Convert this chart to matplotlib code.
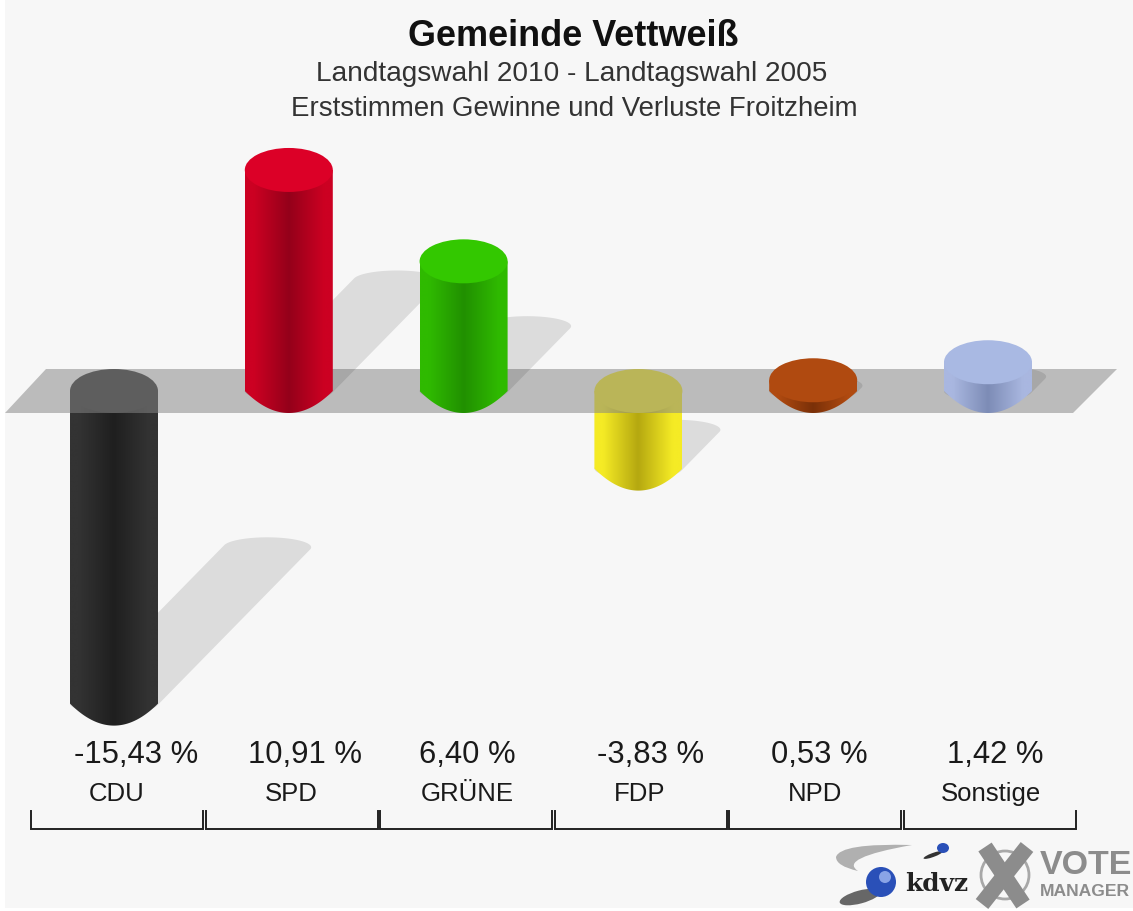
"""Gemeinde Vettweiss: first-vote gains and losses drawn as cylinders on a grey plane."""

import numpy as np
import matplotlib
matplotlib.use("Agg")
import matplotlib.pyplot as plt
from matplotlib.colors import LinearSegmentedColormap
from matplotlib.patches import Circle, Ellipse, Polygon, Rectangle, PathPatch
from matplotlib.path import Path

parties = ["CDU", "SPD", "GRÜNE", "FDP", "NPD", "Sonstige"]
values = [-15.43, 10.91, 6.40, -3.83, 0.53, 1.42]
value_labels = ["-15,43 %", "10,91 %", "6,40 %", "-3,83 %", "0,53 %", "1,42 %"]
title = "Gemeinde Vettweiß"
subtitle_1 = "Landtagswahl 2010 - Landtagswahl 2005"
subtitle_2 = "Erststimmen Gewinne und Verluste Froitzheim"

top_colors = ["#333333", "#dc0027", "#33c800", "#f5eb25", "#b04a10", "#a9b9e3"]
edge_colors = ["#333333", "#cc0022", "#2fba00", "#f5eb25", "#b04a10", "#a9b7e0"]
mid_colors = ["#1f1f1f", "#94001a", "#219000", "#b5a810", "#7a3008", "#7d8cb6"]

# pixel layout of the original: party spacing, px per percent point, zero line
STEP = 174.8
SCALE = 20.26
X0 = 114
Y0 = 391
HALF_W = 44 / STEP
HALF_H = 22 / SCALE
SHADOW_H = 10 / SCALE

BG = "#f7f7f7"


def ellipse_points(cx, cy, w, h, t0=0.0, t1=2 * np.pi, n=80):
    t = np.linspace(t0, t1, n)
    return np.column_stack([cx + w * np.cos(t), cy + h * np.sin(t)])


def px_x(x):
    return (x - X0) / STEP


def px_y(y):
    return (Y0 - y) / SCALE


def draw_shadow(ax, i, v, z):
    # the bar laid down to the back right, about half its length
    length = abs(v)
    y0 = min(v, 0)
    dx = 0.49 * length * SCALE / STEP
    dy = 0.5 * length
    t = np.arctan2(-(SHADOW_H * SCALE) * (dx * STEP), (HALF_W * STEP) * (dy * SCALE))
    front = ellipse_points(i + dx, y0 + dy, HALF_W, SHADOW_H, t, t + np.pi)
    back = ellipse_points(i, y0, HALF_W, SHADOW_H, t + np.pi, t + 2 * np.pi)
    ax.add_patch(Polygon(np.vstack([front, back]), closed=True, fc="black", alpha=0.105, ec="none", zorder=z))


def draw_bar(ax, i, v, z):
    top = max(v, 0)
    bottom = min(v, 0)
    # the lower rim meets the sides in a slight corner, so not a true half ellipse
    u = np.linspace(-1, 1, 80)
    curve = np.column_stack([i + HALF_W * u, bottom - HALF_H * (1 - np.abs(u) ** 2.0)])
    outline = np.vstack([[[i - HALF_W, top]], curve, [[i + HALF_W, top]]])
    body = Polygon(outline, closed=True, transform=ax.transData, fc="none", ec="none")
    ax.add_patch(body)

    cmap = LinearSegmentedColormap.from_list(
        "side",
        [(0, edge_colors[i]), (0.1, edge_colors[i]), (0.5, mid_colors[i]), (0.9, edge_colors[i]), (1, edge_colors[i])],
    )
    grad = np.linspace(0, 1, 256).reshape(1, -1)
    im = ax.imshow(
        grad, cmap=cmap, aspect="auto", zorder=z, interpolation="bilinear",
        extent=(i - HALF_W, i + HALF_W, bottom - HALF_H, top),
    )
    im.set_clip_path(body)
    ax.add_patch(Ellipse((i, top), 2 * HALF_W, 2 * HALF_H, fc=top_colors[i], ec="none", zorder=z + 0.1))


def draw_logo(fig):
    # logo lives in plain pixel coordinates on its own layer
    lg = fig.add_axes([0, 0, 1, 1], zorder=10)
    lg.set_xlim(0, 1133)
    lg.set_ylim(911, 0)
    lg.axis("off")
    lg.patch.set_alpha(0)

    swoosh = Path(
        [(912, 845), (840, 843), (836, 857), (836, 866), (858, 871), (838, 858), (912, 845)],
        [Path.MOVETO, Path.CURVE3, Path.CURVE3, Path.CURVE3, Path.CURVE3, Path.CURVE3, Path.CURVE3],
    )
    lg.add_patch(PathPatch(swoosh, fc="#b0b0b0", ec="none"))
    lg.add_patch(Ellipse((860, 897), 42, 13, angle=-15, fc="#2a2a2a", ec="none", alpha=0.7))
    lg.add_patch(Circle((881, 882), 15, fc="#2a50b8", ec="none"))
    lg.add_patch(Circle((885, 877), 6, fc="#8aa4e6", ec="none"))
    lg.add_patch(Ellipse((933, 855), 20, 4, angle=-20, fc="#333333", ec="none"))
    lg.add_patch(Ellipse((943, 848), 12, 10, fc="#2a50b8", ec="none"))
    lg.text(937, 884, "kdvz", family="DejaVu Serif", weight="bold", fontsize=17.8,
            ha="center", va="center", color="#222222")

    lg.add_patch(Circle((1005, 875), 24, fc="none", ec="#a8a8a8", lw=2))
    lg.plot([985, 1023], [847, 904], color="#8c8c8c", lw=11.5, solid_capstyle="butt")
    lg.plot([1027, 982], [847, 904], color="#8c8c8c", lw=11.5, solid_capstyle="butt")
    lg.text(1040, 865, "VOTE", family="Liberation Sans", weight="bold", fontsize=24.5,
            ha="left", va="center", color="#8c8c8c")
    lg.text(1040, 891, "MANAGER", family="Liberation Sans", weight="bold", fontsize=12.6,
            ha="left", va="center", color="#8c8c8c")


def main():
    plt.rcParams["font.family"] = ["Liberation Sans", "DejaVu Sans"]
    fig = plt.figure(figsize=(11.33, 9.11), dpi=100, facecolor="white")
    ax = fig.add_axes([0, 0, 1, 1])
    ax.axis("off")
    xlim = (px_x(0), px_x(1133))
    ylim = (px_y(911), px_y(0))

    ax.add_patch(Rectangle((px_x(5), px_y(908)), px_x(1133) - px_x(5), px_y(0) - px_y(908),
                           fc=BG, ec="none", zorder=0))

    for i, v in enumerate(values):
        if v < 0:
            draw_shadow(ax, i, v, 1)
            draw_bar(ax, i, v, 2)

    plane = [(px_x(5), -HALF_H), (px_x(46), HALF_H), (px_x(1117), HALF_H), (px_x(1073), -HALF_H)]
    ax.add_patch(Polygon(plane, closed=True, fc="#868686", alpha=0.53, ec="none", zorder=3))

    for i, v in enumerate(values):
        if v >= 0:
            draw_shadow(ax, i, v, 4)
    for i, v in enumerate(values):
        if v >= 0:
            draw_bar(ax, i, v, 5)

    ax.set_xlim(xlim)
    ax.set_ylim(ylim)

    ax.text(px_x(573), px_y(37), title, ha="center", va="center", fontsize=25.9, weight="bold", color="#111111")
    ax.text(px_x(572), px_y(74), subtitle_1, ha="center", va="center", fontsize=20.2, color="#333333")
    ax.text(px_x(574), px_y(109), subtitle_2, ha="center", va="center", fontsize=19.9, color="#333333")

    value_x = [136, 305, 467, 651, 819, 995]
    party_x = [117, 291, 467, 640, 815, 991]
    for i, party in enumerate(parties):
        ax.text(px_x(value_x[i]), px_y(755), value_labels[i], ha="center", va="center", fontsize=22.3, color="#1a1a1a")
        ax.text(px_x(party_x[i]), px_y(794), party, ha="center", va="center", fontsize=18.5, color="#1a1a1a")

        left = px_x(31 + 174.6 * i)
        right = px_x(203 + 174.6 * i)
        ax.plot([left, left, right, right], [px_y(811), px_y(829), px_y(829), px_y(811)],
                color="#222222", lw=1.4, solid_joinstyle="miter", zorder=6)

    draw_logo(fig)
    fig.savefig("out.png", dpi=100, facecolor="white")


if __name__ == "__main__":
    main()
